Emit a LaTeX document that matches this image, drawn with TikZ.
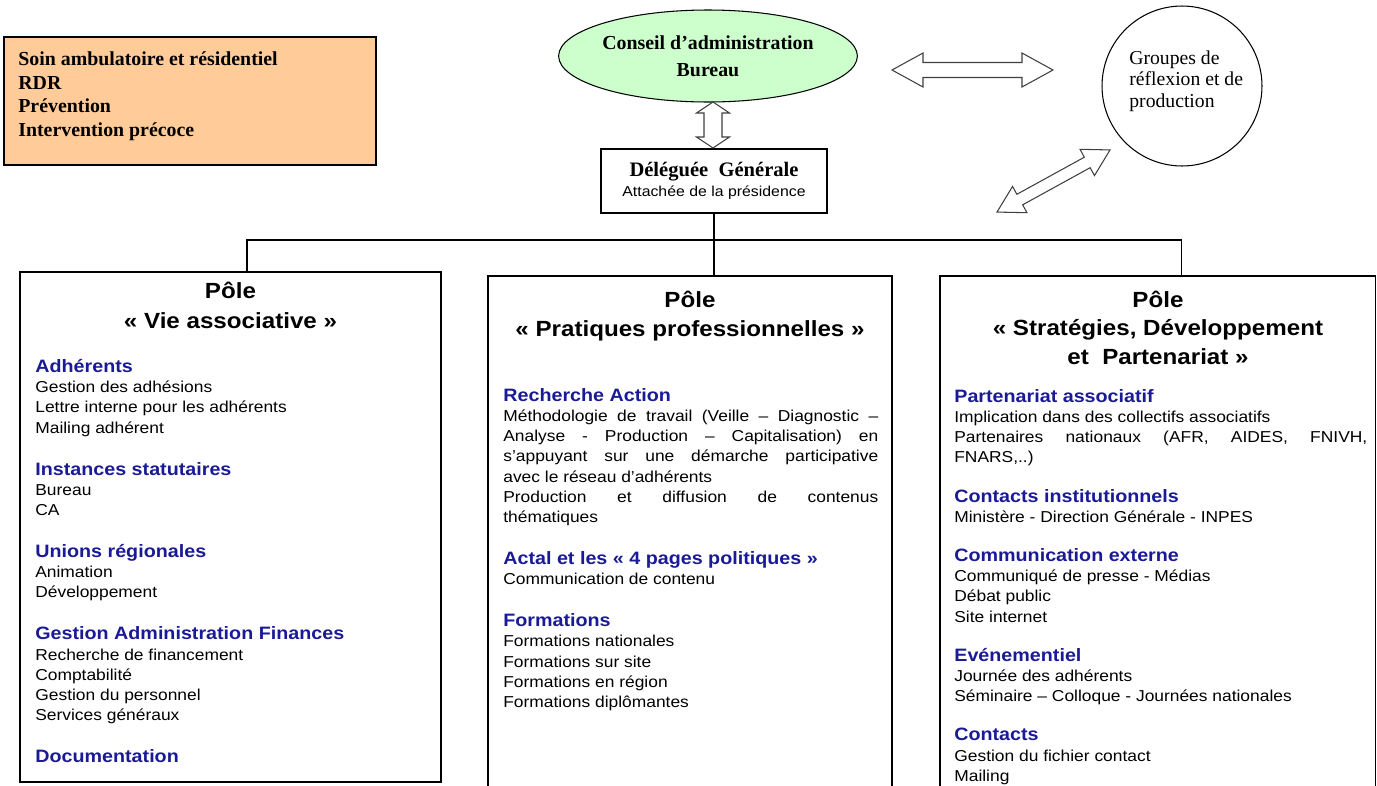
\documentclass[tikz,border=0pt]{standalone}
\usepackage{fontspec}
\setmainfont{Liberation Sans}[FakeStretch=1.1]
\newfontfamily\timesfont{Liberation Serif}
\usepackage{tikz}
\usetikzlibrary{shapes,calc}
\usepackage{xcolor}
\definecolor{orange-missions}{RGB}{255,204,153}
\definecolor{vert-conseil}{RGB}{204,255,204}
\definecolor{bleu-rubrique}{RGB}{26,26,150}
\newcommand{\reglagecontenu}{\lineskiplimit=-\maxdimen\tolerance=9999\hbadness=10000\relax}
\tikzstyle{cadre}=[draw, line width=.9pt, rectangle, inner sep=0pt]
\tikzstyle{trait}=[line width=.6pt]
\tikzstyle{fleche}=[draw=black!75, line width=.6pt, fill=white, line join=miter]
\tikzstyle{titre}=[anchor=north, align=center, inner sep=0pt, font=\fontsize{12.5}{16.2}\selectfont\bfseries]
\tikzstyle{contenu}=[anchor=north west, inner sep=0pt, align=justify, font={\fontsize{9}{11.5}\selectfont\reglagecontenu}]
\newcommand{\rubrique}[1]{{\color{bleu-rubrique}\fontsize{10.2}{11.5}\selectfont\bfseries #1}}
\newcommand{\flechedouble}[4]{(-#1,0) -- (-#1+#2,#3) -- (-#1+#2,#4) -- (#1-#2,#4) -- (#1-#2,#3) -- (#1,0) -- (#1-#2,-#3) -- (#1-#2,-#4) -- (-#1+#2,-#4) -- (-#1+#2,-#3) -- cycle}

\begin{document}
\begin{tikzpicture}[x=0.02cm, y=-0.02cm]
	\useasboundingbox (0,0) rectangle (1377,785);
	\clip (0,0) rectangle (1377,785);
	% missions
	\node[cadre, line width=.8pt, fill=orange-missions, minimum width=7.44cm, minimum height=2.56cm] (missions) at (190,101) {};
	\node[anchor=north west, inner sep=0pt, align=left, font=\timesfont\bfseries\fontsize{11.3}{13.6}\selectfont] (missionstxt) at (18,51) {Soin ambulatoire et résidentiel\\RDR\\Prévention\\Intervention précoce};
	% gouvernance
	\node[ellipse, draw, trait, fill=vert-conseil, minimum width=4.9cm, minimum height=1.84cm, inner sep=0pt, align=center, font=\timesfont\bfseries\fontsize{11.3}{15.3}\selectfont] (conseil) at (708,56) {Conseil d’administration\\Bureau};
	\node[cadre, line width=.7pt, minimum width=4.52cm, minimum height=1.28cm, align=center, font=\fontsize{8.2}{11.3}\selectfont] (deleguee) at (714,181) {{\timesfont\bfseries\fontsize{11.7}{11.3}\selectfont Déléguée\ \ Générale}\\Attachée de la présidence};
	\node[circle, draw, trait, minimum size=3.2cm, inner sep=0pt] (groupes) at (1182,86) {};
	\node[anchor=north west, inner sep=0pt, align=left, font=\timesfont\fontsize{11.2}{12.5}\selectfont] (groupestxt) at (1129,50) {Groupes de\\réflexion et de\\production};
	% fleches
	\draw[fleche, shift={(972.5,70)}] \flechedouble{80.5}{31}{17}{7.5};
	\draw[fleche, shift={(713,125)}, rotate=90] \flechedouble{23}{11}{16.5}{9};
	\draw[fleche, shift={(1053.5,181)}, rotate=28.8] \flechedouble{64.5}{26}{15}{6};
	% poles
	\node[cadre, minimum width=8.42cm, minimum height=10.2cm] (pole1) at (230.5,527) {};
	\node[cadre, minimum width=8.08cm, minimum height=10.48cm] (pole2) at (690,538) {};
	\node[cadre, minimum width=8.71cm, minimum height=10.48cm] (pole3) at (1157.75,538) {};
	\coordinate (bus) at (714,240);
	\draw[trait] (deleguee.south) -- (bus);
	\draw[trait] ($(pole1.north)+(16.5,0)$) |- (bus) -| ($(pole3.north)+(24,0)$);
	\draw[trait] (bus) -- (bus |- pole2.north);
	\node[titre, font=\fontsize{12.5}{17}\selectfont\bfseries] (titre1) at (230.5,282) {Pôle\\«~Vie associative~»};
	\node[titre] (titre2) at (690,291) {Pôle\\«~Pratiques professionnelles~»};
	\node[titre] (titre3) at (1158,290.5) {Pôle\\«~Stratégies, Développement\\et\ \ Partenariat~»};
	\node[contenu, text width=7.8cm] (contenu1) at (35,359) {%
		\rubrique{Adhérents}\\
		Gestion des adhésions\\
		Lettre interne pour les adhérents\\
		Mailing adhérent\\[12.4pt]
		\rubrique{Instances statutaires}\\
		Bureau\\
		CA\\[12.4pt]
		\rubrique{Unions régionales}\\
		Animation\\
		Développement\\[12.4pt]
		\rubrique{Gestion Administration Finances}\\
		Recherche de financement\\
		Comptabilité\\
		Gestion du personnel\\
		Services généraux\\[12.4pt]
		\rubrique{Documentation}};
	\node[contenu, text width=7.5cm] (contenu2) at (503,388) {%
		\rubrique{Recherche Action}\\
		Méthodologie de travail (Veille – Diagnostic –\linebreak
		Analyse - Production – Capitalisation) en\linebreak
		s’appuyant sur une démarche participative\linebreak
		avec le réseau d’adhérents\\
		Production et diffusion de contenus\linebreak
		thématiques\\[12.4pt]
		\rubrique{Actal et les «~4 pages politiques~»}\\
		Communication de contenu\\[12.4pt]
		\rubrique{Formations}\\
		Formations nationales\\
		Formations sur site\\
		Formations en région\\
		Formations diplômantes};
	\node[contenu, text width=8.26cm] (contenu3) at (954,389) {%
		\rubrique{Partenariat associatif}\\
		Implication dans des collectifs associatifs\\
		Partenaires nationaux (AFR, AIDES, FNIVH,\linebreak
		FNARS,..)\\[10.8pt]
		\rubrique{Contacts institutionnels}\\
		Ministère - Direction Générale - INPES\\[10.8pt]
		\rubrique{Communication externe}\\
		Communiqué de presse - Médias\\
		Débat public\\
		Site internet\\[10.8pt]
		\rubrique{Evénementiel}\\
		Journée des adhérents\\
		Séminaire – Colloque - Journées nationales\\[10.8pt]
		\rubrique{Contacts}\\
		Gestion du fichier contact\\
		Mailing};
\end{tikzpicture}
\end{document}
